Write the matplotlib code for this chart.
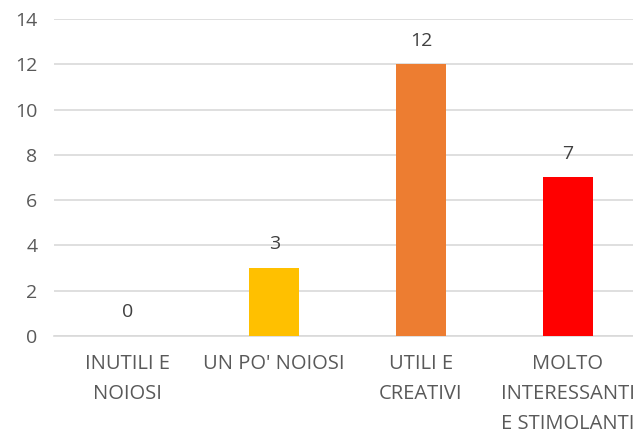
import matplotlib.pyplot as plt
import numpy as np

categorie = ["INUTILI E\nNOIOSI", "UN PO' NOIOSI", "UTILI E\nCREATIVI", "MOLTO\nINTERESSANTI\nE STIMOLANTI"]
valori = [0, 3, 12, 7]
colori = ["#FFC000", "#FFC000", "#ED7D31", "#FF0000"]

plt.rcParams['font.family'] = ['Open Sans', 'DejaVu Sans']

fig = plt.figure(figsize=(6.33, 4.36), dpi=100)
# l'area del grafico esce oltre il bordo destro, come nell'originale
ax = fig.add_axes([54/633, 100/436, 587/633, 317/436])

x = np.arange(len(categorie))
ax.bar(x, valori, width=0.34, color=colori, zorder=3)

for xi, v in zip(x, valori):
    ax.text(xi, v + 0.65, str(v), ha='center', va='bottom', fontsize=14, color='#404040')

ax.set_xlim(-0.5, len(categorie) - 0.5)
ax.set_ylim(0, 14)
ax.set_yticks(range(0, 15, 2))
ax.grid(axis='y', color='#d9d9d9', linewidth=1.2, zorder=0)
for s in ['top', 'right', 'left']:
    ax.spines[s].set_visible(False)
ax.spines['bottom'].set_color('#d9d9d9')
ax.spines['bottom'].set_linewidth(1.2)
ax.tick_params(length=0, labelsize=14, colors='#595959')
ax.tick_params(axis='y', pad=12)
ax.tick_params(axis='x', pad=13)
ax.set_xticks(x)
ax.set_xticklabels(categorie, linespacing=1.65, fontsize=14.5)

fig.savefig("out.png", dpi=100)
